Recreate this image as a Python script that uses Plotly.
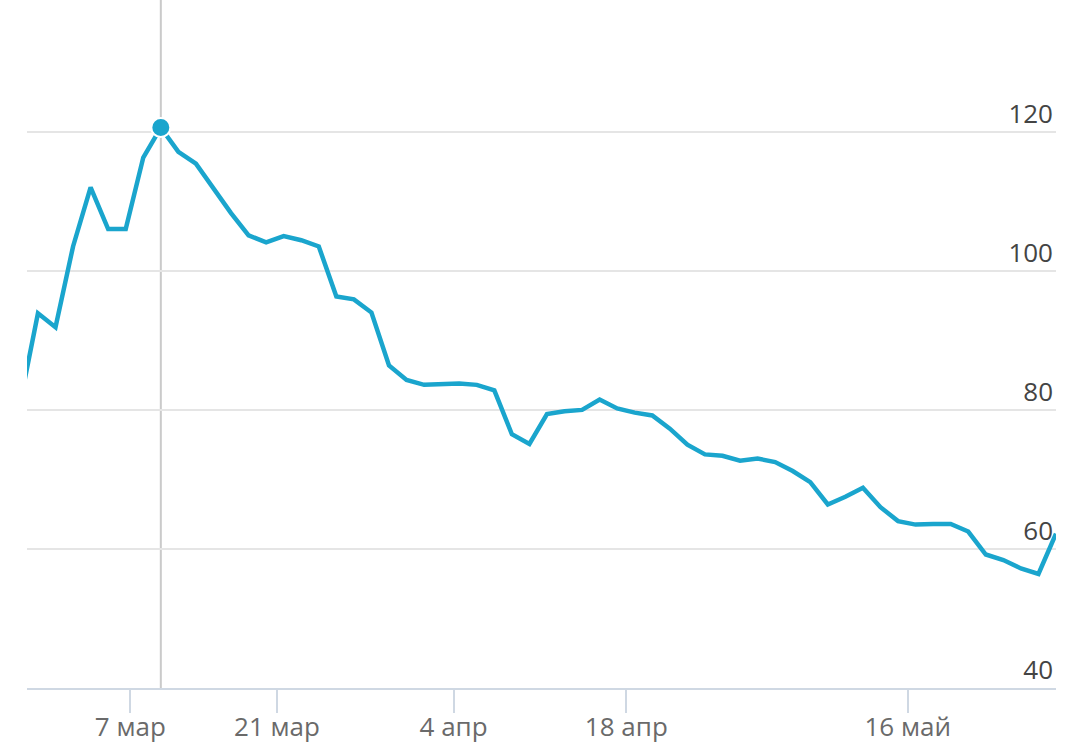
"""Price line with a hover crosshair, recreated in Plotly."""

import plotly.graph_objects as go

# trading-day index values
price = [
    81.2, 93.9, 91.9, 103.5, 112.0, 106.0, 106.0, 116.3, 120.6, 117.1,
    115.4, 111.9, 108.3, 105.1, 104.1, 105.0, 104.4, 103.5, 96.3, 95.9,
    94.0, 86.4, 84.3, 83.6, 83.7, 83.8, 83.6, 82.8, 76.5, 75.1,
    79.4, 79.8, 80.0, 81.5, 80.2, 79.6, 79.2, 77.3, 75.0, 73.6,
    73.4, 72.7, 73.0, 72.5, 71.2, 69.6, 66.4, 67.5, 68.8, 66.0,
    64.0, 63.5, 63.6, 63.6, 62.5, 59.2, 58.4, 57.2, 56.4, 62.2,
]
day = list(range(len(price)))

tick_pos = [6.26, 14.62, 24.68, 34.52, 50.55]
tick_text = ["7 мар", "21 мар", "4 апр", "18 апр", "16 май"]
y_ticks = [40, 60, 80, 100, 120]

hover_idx = 8

LINE = "#1aa5cd"
AXIS = "#cfd8e3"
TEXT = "#6a6a6a"

fig = go.Figure()

fig.add_trace(
    go.Scatter(
        x=day,
        y=price,
        mode="lines",
        line=dict(color=LINE, width=4.5),
        hoverinfo="skip",
    )
)

fig.add_vline(x=day[hover_idx], line_color="#cacaca", line_width=2, layer="below")

fig.add_trace(
    go.Scatter(
        x=[day[hover_idx]],
        y=[price[hover_idx]],
        mode="markers",
        marker=dict(color=LINE, size=19, line=dict(color="white", width=2)),
        cliponaxis=False,
    )
)

fig.update_layout(
    width=1079,
    height=753,
    margin=dict(l=27, r=23, t=0, b=65),
    paper_bgcolor="white",
    plot_bgcolor="white",
    showlegend=False,
    font=dict(family="Open Sans", size=26, color=TEXT),
)

fig.update_xaxes(
    range=[0.376, 59],
    tickvals=tick_pos,
    ticktext=tick_text,
    showgrid=False,
    zeroline=False,
    showline=True,
    linecolor=AXIS,
    linewidth=2,
    ticks="outside",
    ticklen=23,
    tickwidth=2,
    tickcolor=AXIS,
    ticklabelstandoff=-8,
)

fig.update_yaxes(
    range=[40, 138.95],
    tickvals=y_ticks,
    side="right",
    ticklabelposition="inside top",
    showgrid=True,
    gridcolor="#e5e5e5",
    gridwidth=2,
    zeroline=False,
    showline=False,
)

fig.write_html(
    "out.html",
    config={"displayModeBar": False},
    post_script="document.body.style.margin='0';",
)
